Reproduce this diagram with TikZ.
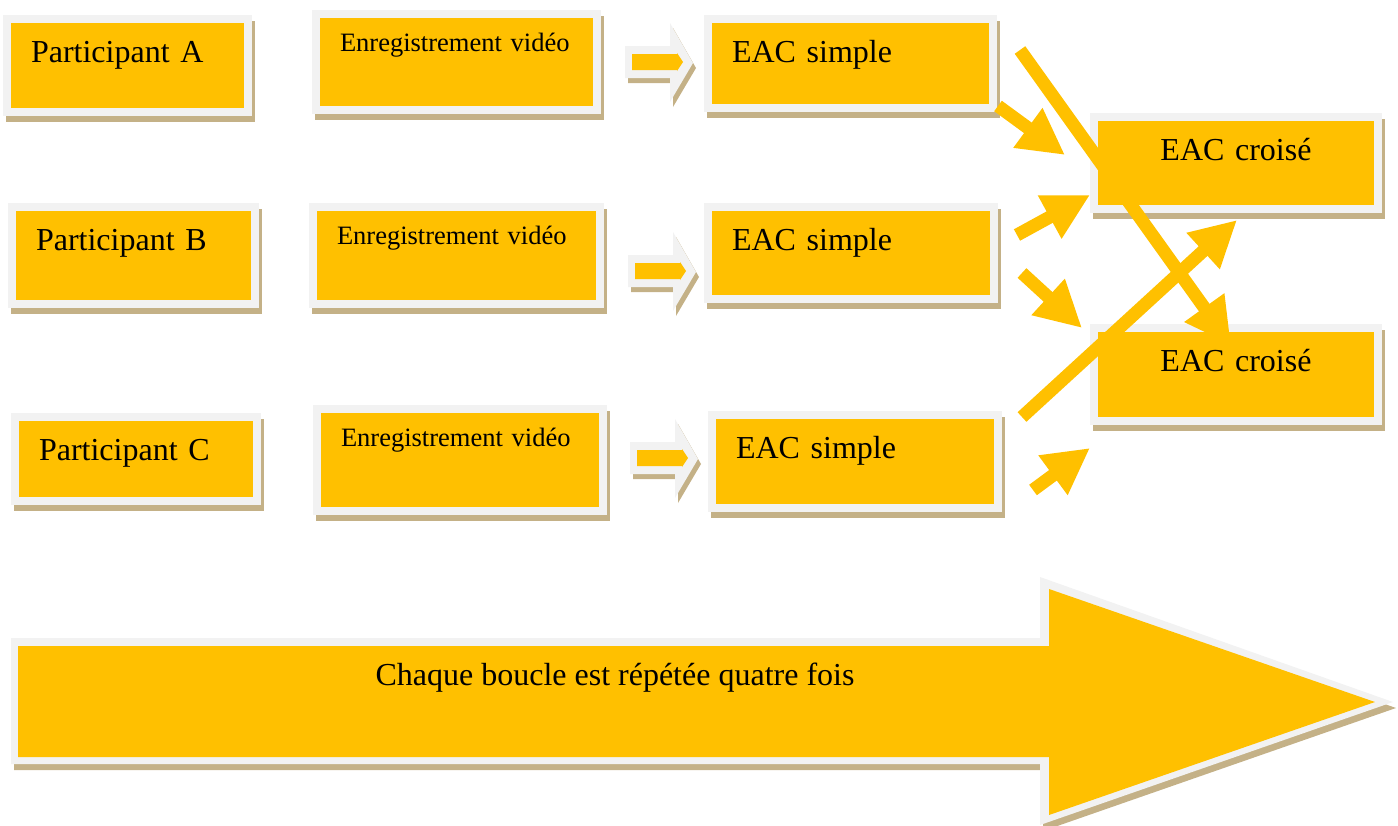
\documentclass[tikz,border=0pt]{standalone}
\usepackage{fontspec}
\setmainfont{Liberation Serif}
\usetikzlibrary{arrows.meta}
\definecolor{boxyellow}{HTML}{FFC000}
\definecolor{glowgray}{HTML}{F2F2F2}
\definecolor{shadowtan}{HTML}{C4B187}
\begin{document}
\begin{tikzpicture}[x=1pt,y=-1pt,line join=miter,
		box/.style={anchor=north west,draw=glowgray,fill=boxyellow,line width=8pt,outer sep=0pt,inner xsep=24pt,inner ysep=0pt,text height=43pt,align=left,font=\fontsize{32}{38}\selectfont,
			preaction={draw=shadowtan,fill=shadowtan,transform canvas={shift={(3pt,-6pt)}}}},
		video/.style={box,text height=37pt,font=\fontsize{26.5}{32}\selectfont},
		fat/.style={draw=boxyellow,line width=13pt,-{Triangle[length=46pt,width=46pt]}}]
		\useasboundingbox (0,0) rectangle (1398,825);
		% participants
		\node[box,text width=193pt,text depth=50pt] (partA) at (7,19) {Participant A};
		\node[box,text width=195pt,text depth=54pt] (partB) at (12,207) {Participant B};
		\node[box,text width=194pt,text depth=41pt] (partC) at (15,417) {Participant C};
		% videos
		\node[video,text width=233pt,text depth=59pt] (videoA) at (316,14) {Enregistrement vidéo};
		\node[video,text width=239pt,text depth=60pt] (videoB) at (313,207) {Enregistrement vidéo};
		\node[video,text width=238pt,text depth=65pt] (videoC) at (317,409) {Enregistrement vidéo};
		% simple
		\node[box,text width=237pt,text depth=46pt] (simA) at (708,19) {EAC simple};
		\node[box,text width=238pt,text depth=49pt] (simB) at (708,207) {EAC simple};
		\node[box,text width=238pt,text depth=50pt] (simC) at (712,415) {EAC simple};
		% croise
		\node[box,align=center,text width=236pt,text depth=49pt] (crossTop) at (1094,117) {EAC croisé};
		\node[box,align=center,text width=236pt,text depth=50pt] (crossBot) at (1094,328) {EAC croisé};
		% small arrows
		\foreach \x/\y in {625/62,628/271,630/458}{
			\fill[shadowtan,shift={(3,5)}] (\x,\y-16) -- (\x+45,\y-16) -- (\x+45,\y-39) -- (\x+68,\y+1) -- (\x+45,\y+40) -- (\x+45,\y+16) -- (\x,\y+16) -- cycle;
			\fill[glowgray] (\x,\y-16) -- (\x+45,\y-16) -- (\x+45,\y-39) -- (\x+68,\y+1) -- (\x+45,\y+40) -- (\x+45,\y+16) -- (\x,\y+16) -- cycle;
			\fill[boxyellow] (\x+7,\y-8) -- (\x+52,\y-8) -- (\x+52,\y-9) -- (\x+58,\y) -- (\x+52,\y+9) -- (\x+52,\y+8) -- (\x+7,\y+8) -- cycle;
		}
		% crossing arrows
		\coordinate (outA) at (998,106);
		\coordinate (outA2) at (1020,50);
		\coordinate (outB) at (1017,235);
		\coordinate (outB2) at (1022,273);
		\coordinate (outC) at (1022,417);
		\coordinate (outC2) at (1033,490);
		\coordinate (inTop) at (1065,155);
		\coordinate (inTop2) at (1090,195);
		\coordinate (inTop3) at (1237,220);
		\coordinate (inBot) at (1082,328);
		\coordinate (inBot2) at (1231,345);
		\coordinate (inEnd) at (1090,448);
		\draw[fat] (outA) -- (inTop);
		\draw[fat] (outA2) -- (inBot2);
		\draw[fat] (outB) -- (inTop2);
		\draw[fat] (outB2) -- (inBot);
		\draw[fat] (outC) -- (inTop3);
		\draw[fat] (outC2) -- (inEnd);
		% loop arrow
		\fill[shadowtan,shift={(3,6)}] (11,638) -- (1040,638) -- (1040,577) -- (1393,702) -- (1040,825) -- (1040,764) -- (11,764) -- cycle;
		\fill[glowgray] (11,638) -- (1040,638) -- (1040,577) -- (1393,702) -- (1040,825) -- (1040,764) -- (11,764) -- cycle;
		\fill[boxyellow] (18,646) -- (1049,646) -- (1049,589) -- (1375,702) -- (1049,815) -- (1049,757) -- (18,757) -- cycle;
		\node[anchor=base,font=\fontsize{32}{38}\selectfont] (loop) at (615,685) {Chaque boucle est répétée quatre fois};
	\end{tikzpicture}
\end{document}
